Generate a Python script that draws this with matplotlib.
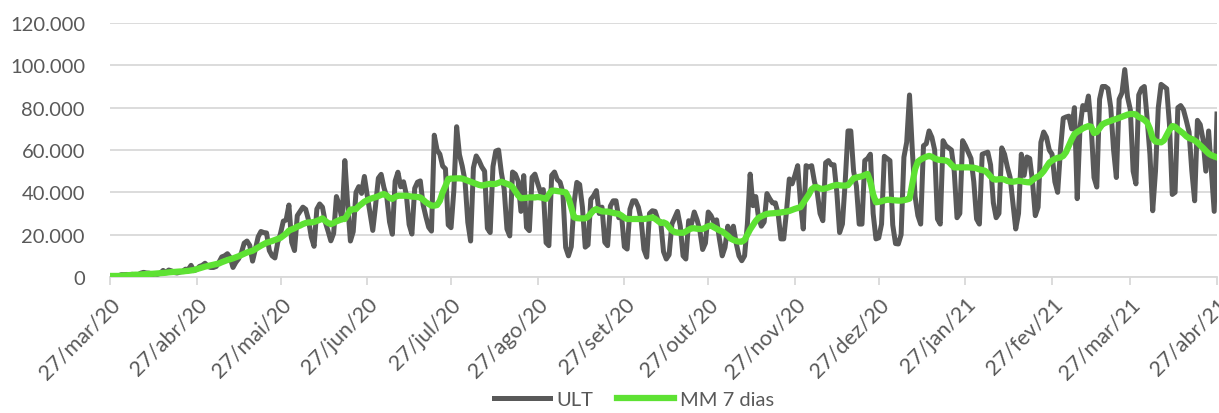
import matplotlib
matplotlib.use("Agg")
import matplotlib.pyplot as plt
from matplotlib.ticker import FuncFormatter
import numpy as np
import pandas as pd

plt.rcParams["font.family"] = ["Lato", "DejaVu Sans"]

start_date = "2020-03-27"

# daily values, in thousands (27/mar/20 .. 27/abr/21)
ult = [
    0.5, 0.5,
    0.35, 0.32, 1.1, 1.1, 1.2, 1.0, 1.3,
    0.8, 1.0, 1.8, 2.2, 1.9, 1.8, 1.1,
    1.4, 1.3, 1.8, 3.1, 2.1, 3.3, 2.9,
    2.1, 1.9, 2.3, 2.7, 3.7, 3.5, 5.5,
    3.0, 3.5, 5.0, 5.5, 6.5, 5.0, 4.5,
    4.5, 5.0, 7.0, 9.5, 10.0, 11.0, 9.2,
    4.5, 6.9, 8.6, 11.4, 16.0, 17.0, 14.9,
    7.5, 13.1, 19.0, 21.5, 21.0, 20.8, 12.5,
    10.0, 9.0, 16.3, 20.6, 26.4, 26.9, 34.0,
    16.4, 12.5, 29.0, 31.0, 33.0, 32.0, 27.0,
    18.9, 14.5, 32.1, 34.5, 33.0, 26.0, 21.7,
    17.1, 20.6, 38.0, 34.0, 27.0, 55.0, 34.7,
    17.0, 21.4, 40.0, 42.7, 39.5, 47.5, 38.7,
    30.5, 22.0, 33.8, 46.7, 48.5, 42.2, 37.9,
    26.0, 20.2, 45.3, 49.5, 42.6, 45.0, 39.0,
    24.8, 20.3, 41.9, 44.8, 45.4, 34.2, 28.5,
    23.5, 21.7, 67.0, 60.0, 58.0, 52.4, 51.1,
    24.6, 23.3, 40.8, 71.0, 57.8, 52.4, 45.4,
    25.8, 17.0, 51.6, 57.2, 55.0, 52.0, 50.0,
    23.0, 21.0, 52.2, 59.5, 60.0, 49.3, 41.6,
    22.7, 19.4, 49.6, 48.6, 45.3, 31.0, 47.9,
    23.4, 21.9, 47.1, 48.6, 44.2, 40.0, 41.3,
    16.2, 14.8, 48.0, 49.6, 46.0, 44.8, 40.0,
    14.0, 10.0, 14.3, 35.0, 44.7, 43.7, 33.0,
    14.1, 15.2, 36.7, 38.4, 40.8, 30.0, 33.0,
    16.4, 14.8, 33.5, 36.0, 36.0, 28.0, 29.0,
    14.3, 13.2, 32.0, 36.0, 36.0, 33.0, 27.0,
    13.0, 9.4, 30.0, 31.3, 31.0, 27.0, 26.0,
    12.0, 8.5, 10.5, 25.0, 28.0, 31.0, 24.0,
    10.0, 8.5, 26.6, 25.0, 30.7, 27.0, 22.0,
    13.0, 16.0, 30.7, 29.0, 26.0, 27.0, 18.0,
    10.0, 14.0, 24.0, 18.0, 24.0, 16.0, 10.0,
    7.7, 10.0, 25.0, 48.6, 33.7, 38.0, 28.0,
    24.0, 26.0, 39.4, 37.0, 35.0, 35.0, 30.0,
    18.0, 18.0, 31.0, 46.3, 44.0, 48.0, 52.6,
    35.0, 22.7, 52.6, 52.0, 52.6, 45.0, 40.0,
    30.0, 26.6, 54.0, 55.0, 53.0, 53.0, 40.0,
    21.0, 25.0, 45.0, 69.0, 69.0, 50.0, 43.0,
    25.0, 25.0, 55.0, 56.0, 58.0, 30.0, 18.0,
    18.5, 25.0, 57.0, 56.0, 55.0, 24.6, 15.8,
    15.6, 20.0, 56.6, 63.7, 86.0, 60.0, 38.0,
    29.0, 25.0, 62.0, 63.0, 69.0, 66.0, 60.0,
    27.4, 25.0, 64.4, 62.0, 61.0, 60.0, 50.0,
    28.0, 30.0, 64.4, 62.0, 59.0, 56.0, 45.0,
    27.4, 25.0, 58.0, 58.5, 59.0, 53.0, 35.0,
    28.0, 30.0, 61.0, 58.0, 52.0, 47.0, 35.0,
    22.7, 30.0, 58.0, 48.0, 56.7, 56.0, 45.0,
    29.0, 33.0, 63.6, 68.5, 66.0, 60.0, 58.0,
    45.0, 40.0, 60.0, 75.0, 75.6, 76.0, 70.0,
    80.0, 37.0, 70.8, 81.0, 79.0, 85.5, 71.0,
    47.0, 42.5, 84.0, 90.0, 90.0, 89.0, 80.0,
    60.0, 47.0, 84.0, 87.0, 98.0, 85.0, 79.0,
    50.0, 44.0, 86.0, 89.0, 90.0, 75.0, 58.0,
    31.3, 50.0, 80.0, 91.0, 90.0, 89.0, 72.0,
    39.0, 40.0, 80.0, 81.0, 79.0, 74.0, 68.5,
    50.0, 36.0, 74.0, 72.0, 65.0, 50.0, 69.0,
    50.0, 31.0, 77.0,
]

mm7 = [
    0.5, 0.5, 0.5, 0.5, 0.6, 0.7, 0.8, 0.9, 1.0,
    1.1, 1.1, 1.2, 1.3, 1.4, 1.5, 1.5,
    1.6, 1.7, 1.8, 1.9, 2.0, 2.2, 2.3,
    2.4, 2.5, 2.6, 2.6, 2.8, 2.9, 3.1,
    3.3, 3.7, 4.1, 4.5, 4.9, 5.2, 5.5,
    5.8, 6.1, 6.4, 7.0, 7.5, 8.0, 8.4,
    8.8, 9.3, 9.8, 10.4, 11.0, 11.6, 12.0,
    12.4, 13.2, 14.0, 14.8, 15.5, 16.2, 16.6,
    17.0, 17.5, 18.0, 18.5, 19.5, 20.5, 21.9,
    22.5, 23.0, 23.8, 24.3, 25.0, 25.5, 25.8,
    25.8, 26.0, 26.5, 27.0, 27.7, 26.5, 25.5,
    25.0, 25.5, 26.3, 26.8, 27.4, 27.4, 29.5,
    31.8, 32.0, 32.1, 33.5, 34.5, 35.6, 36.3,
    36.9, 37.3, 37.7, 38.2, 38.8, 39.2, 38.5,
    37.3, 36.9, 37.8, 38.4, 38.4, 38.4, 38.4,
    38.2, 38.0, 37.9, 37.8, 37.6, 36.5, 35.3,
    34.5, 33.7, 33.7, 34.0, 36.0, 40.0, 43.0,
    46.3, 46.5, 46.5, 46.6, 46.6, 46.5, 46.0,
    45.5, 45.0, 44.5, 44.0, 43.5, 43.2, 43.5,
    43.8, 44.0, 43.9, 44.0, 44.5, 45.0, 44.5,
    44.0, 43.5, 42.5, 40.5, 38.5, 37.2, 37.3,
    37.4, 37.6, 37.6, 37.6, 37.8, 37.6, 37.3,
    36.9, 39.0, 40.8, 40.8, 40.6, 40.4, 40.2,
    40.0, 37.5, 33.0, 28.2, 27.8, 27.7, 27.7,
    27.7, 28.5, 30.0, 31.5, 32.1, 31.5, 31.0,
    30.9, 30.9, 30.6, 30.3, 30.0, 29.8, 29.0,
    28.0, 27.4, 27.4, 27.4, 27.4, 27.4, 27.4,
    27.4, 27.6, 27.8, 28.2, 27.5, 26.5, 25.5,
    25.8, 25.2, 23.5, 22.0, 21.2, 21.0, 20.9,
    20.9, 21.5, 22.3, 23.0, 23.0, 22.8, 22.7,
    22.7, 23.3, 24.0, 24.3, 23.5, 22.8, 22.0,
    21.5, 20.5, 19.5, 18.2, 17.5, 17.0, 16.7,
    16.7, 17.5, 20.0, 22.5, 24.5, 26.5, 28.0,
    28.7, 29.3, 29.8, 30.0, 30.1, 30.2, 30.3,
    30.5, 30.7, 30.9, 31.2, 31.7, 32.2, 32.6,
    33.0, 35.0, 37.0, 39.0, 41.5, 42.4, 42.4,
    41.8, 41.6, 41.9, 42.3, 42.8, 43.2, 43.5,
    43.3, 43.2, 43.2, 43.4, 45.0, 46.6, 47.0,
    47.3, 47.6, 48.2, 48.7, 45.0, 39.0, 35.3,
    35.5, 35.8, 36.2, 36.5, 36.5, 36.3, 36.2,
    36.1, 36.1, 36.3, 36.6, 37.0, 44.0, 51.0,
    54.5, 55.5, 56.2, 56.8, 57.2, 56.8, 56.0,
    55.5, 55.3, 55.2, 55.0, 54.5, 53.0, 51.8,
    51.8, 51.8, 51.8, 51.8, 51.8, 51.7, 51.6,
    51.3, 50.8, 50.5, 50.2, 49.0, 47.5, 46.2,
    46.0, 46.2, 46.3, 46.0, 45.4, 45.1, 45.0,
    45.2, 45.5, 45.3, 45.0, 44.8, 44.7, 45.8,
    46.8, 47.5, 48.5, 50.0, 52.0, 54.0, 55.0,
    55.8, 56.3, 56.5, 57.2, 59.0, 62.0, 65.0,
    67.5, 68.5, 69.3, 70.2, 70.8, 71.3, 71.0,
    68.0, 68.5, 70.3, 72.1, 72.8, 73.3, 73.8,
    74.3, 74.7, 75.2, 75.7, 76.2, 76.7, 77.0,
    77.0, 76.8, 75.6, 75.0, 74.2, 73.0, 70.0,
    65.5, 64.0, 63.8, 63.6, 64.5, 67.0, 69.5,
    71.3, 71.0, 69.8, 68.8, 67.8, 66.5, 65.6,
    65.2, 64.5, 63.5, 62.2, 61.0, 59.6, 58.3,
    57.5, 57.0, 56.5,
]

dates = pd.date_range(start_date, periods=len(ult), freq="D")
ult = np.array(ult) * 1000
mm7 = np.array(mm7) * 1000

# ticks on the 27th of each month
tick_dates = pd.date_range("2020-03-01", "2021-04-01", freq="MS") + pd.Timedelta(days=26)
months = ["jan", "fev", "mar", "abr", "mai", "jun", "jul", "ago", "set", "out", "nov", "dez"]
tick_labels = [f"27/{months[d.month - 1]}/{d.strftime('%y')}" for d in tick_dates]

grey_txt = "#595959"

fig = plt.figure(figsize=(12.19, 4.14), dpi=100)
ax = fig.add_axes([110 / 1219, 1 - 278 / 414, (1217 - 110) / 1219, (278 - 24) / 414])

ax.plot(dates, ult, color="#595959", lw=3.6, label="ULT", solid_joinstyle="round", zorder=3)
ax.plot(dates, mm7, color="#5EE233", lw=4.5, label="MM 7 dias", solid_joinstyle="round", zorder=4)

ax.set_xlim(dates[0], dates[-1])
ax.set_ylim(0, 120000)
ax.set_yticks(np.arange(0, 120001, 20000))
ax.yaxis.set_major_formatter(FuncFormatter(lambda v, p: f"{int(v):,}".replace(",", ".")))
ax.grid(axis="y", color="#D9D9D9", lw=1.3)
ax.set_axisbelow(True)

ax.set_xticks(tick_dates)
ax.set_xticklabels(tick_labels, rotation=45, ha="right", rotation_mode="anchor")

for s in ["top", "right", "left"]:
    ax.spines[s].set_visible(False)
ax.spines["bottom"].set_color("#D9D9D9")
ax.spines["bottom"].set_linewidth(1.3)
ax.tick_params(axis="y", length=0, pad=18, labelsize=14.5, labelcolor=grey_txt)
ax.tick_params(axis="x", length=6, width=1.3, color="#D9D9D9", pad=6, labelsize=15.5, labelcolor=grey_txt)

fig.legend(loc="lower center", bbox_to_anchor=(0.52, -0.032), ncol=2, frameon=False,
           fontsize=14.5, handlelength=2.8, columnspacing=1.2, handletextpad=0.3,
           labelcolor=grey_txt)

fig.savefig("out.png", dpi=100)
